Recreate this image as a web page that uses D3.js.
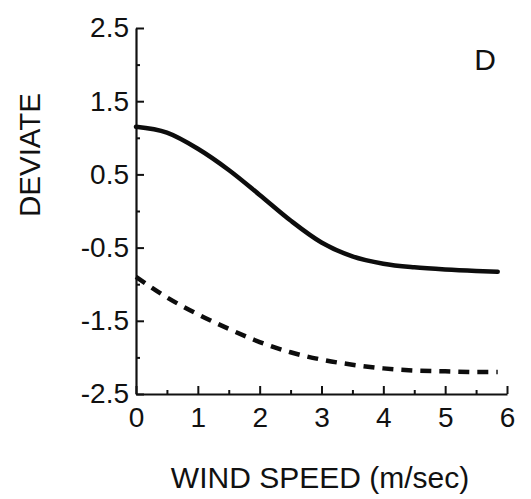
<!DOCTYPE html>
<html>
<head>
<meta charset="utf-8">
<script src="https://cdn.jsdelivr.net/npm/d3@7"></script>
<style>
  html, body { margin: 0; padding: 0; background: #fff; }
  svg { display: block; }
  text { font-family: "Liberation Sans", Arial, sans-serif; fill: #111; }
</style>
</head>
<body>
<svg id="chart" width="531" height="499"></svg>
<script>
// ---- data ----
const windSpeed = [0, 0.5, 1, 1.5, 2, 2.5, 3, 3.5, 4, 4.5, 5, 5.5, 5.85];
const solidDeviate = [1.15, 1.07, 0.85, 0.56, 0.22, -0.13, -0.43, -0.62, -0.72, -0.77, -0.80, -0.82, -0.83];
const dashedDeviate = [-0.90, -1.18, -1.41, -1.61, -1.79, -1.93, -2.03, -2.10, -2.15, -2.18, -2.19, -2.20, -2.20];
const yMajorTicks = [-2.5, -1.5, -0.5, 0.5, 1.5, 2.5];
const yMinorTicks = [-2, -1, 0, 1, 2];
const xMajorTicks = [0, 1, 2, 3, 4, 5, 6];
const xMinorTicks = [0.5, 1.5, 2.5, 3.5, 4.5, 5.5];
const panelLabel = "D";
const xTitle = "WIND SPEED (m/sec)";
const yTitle = "DEVIATE";

// ---- layout ----
const svg = d3.select("#chart");
const mLeft = 136, mRight = 507, mTop = 28, mBottom = 394;

const x = d3.scaleLinear().domain([0, 6]).range([mLeft, mRight]);
const y = d3.scaleLinear().domain([-2.5, 2.5]).range([mBottom, mTop]);

const fmt = d => (d < 0 ? "-" : "") + Math.abs(d).toFixed(1);

// Y axis: major labeled ticks (pointing inward)
svg.append("g").attr("transform", `translate(${mLeft},0)`)
  .call(d3.axisLeft(y).tickValues(yMajorTicks).tickSizeInner(-8).tickSizeOuter(0)
    .tickPadding(7).tickFormat(fmt));
svg.append("g").attr("transform", `translate(${mLeft},0)`)
  .call(d3.axisLeft(y).tickValues(yMinorTicks).tickSizeInner(-4).tickSizeOuter(0).tickFormat(""))
  .select(".domain").remove();

// X axis
svg.append("g").attr("transform", `translate(0,${mBottom})`)
  .call(d3.axisBottom(x).tickValues(xMajorTicks).tickSizeInner(-8).tickSizeOuter(0)
    .tickPadding(13).tickFormat(d3.format("d")));
svg.append("g").attr("transform", `translate(0,${mBottom})`)
  .call(d3.axisBottom(x).tickValues(xMinorTicks).tickSizeInner(-4).tickSizeOuter(0).tickFormat(""))
  .select(".domain").remove();

svg.selectAll(".domain").attr("stroke", "#111").attr("stroke-width", 2.2);
svg.selectAll(".tick line").attr("stroke", "#111").attr("stroke-width", 2);
svg.selectAll(".tick text").attr("font-size", 28).attr("font-family", "Liberation Sans, Arial, sans-serif").attr("fill", "#111");

// ---- lines ----
const line = vals => d3.line()
  .x((d, i) => x(windSpeed[i]))
  .y(d => y(d))
  .curve(d3.curveMonotoneX)(vals);

svg.append("path").attr("d", line(solidDeviate))
  .attr("fill", "none").attr("stroke", "#0d0d0d").attr("stroke-width", 4.5)
  .attr("stroke-linecap", "round");

svg.append("path").attr("d", line(dashedDeviate))
  .attr("fill", "none").attr("stroke", "#0d0d0d").attr("stroke-width", 4.5)
  .attr("stroke-dasharray", "11,8");

// ---- labels ----
svg.append("text").attr("x", 485).attr("y", 70).attr("text-anchor", "middle")
  .attr("font-size", 30).text(panelLabel);

svg.append("text").attr("x", 320).attr("y", 488).attr("text-anchor", "middle")
  .attr("font-size", 30).text(xTitle);

svg.append("text").attr("transform", "translate(40,155) rotate(-90)")
  .attr("text-anchor", "middle").attr("font-size", 29.5).text(yTitle);
</script>
</body>
</html>
